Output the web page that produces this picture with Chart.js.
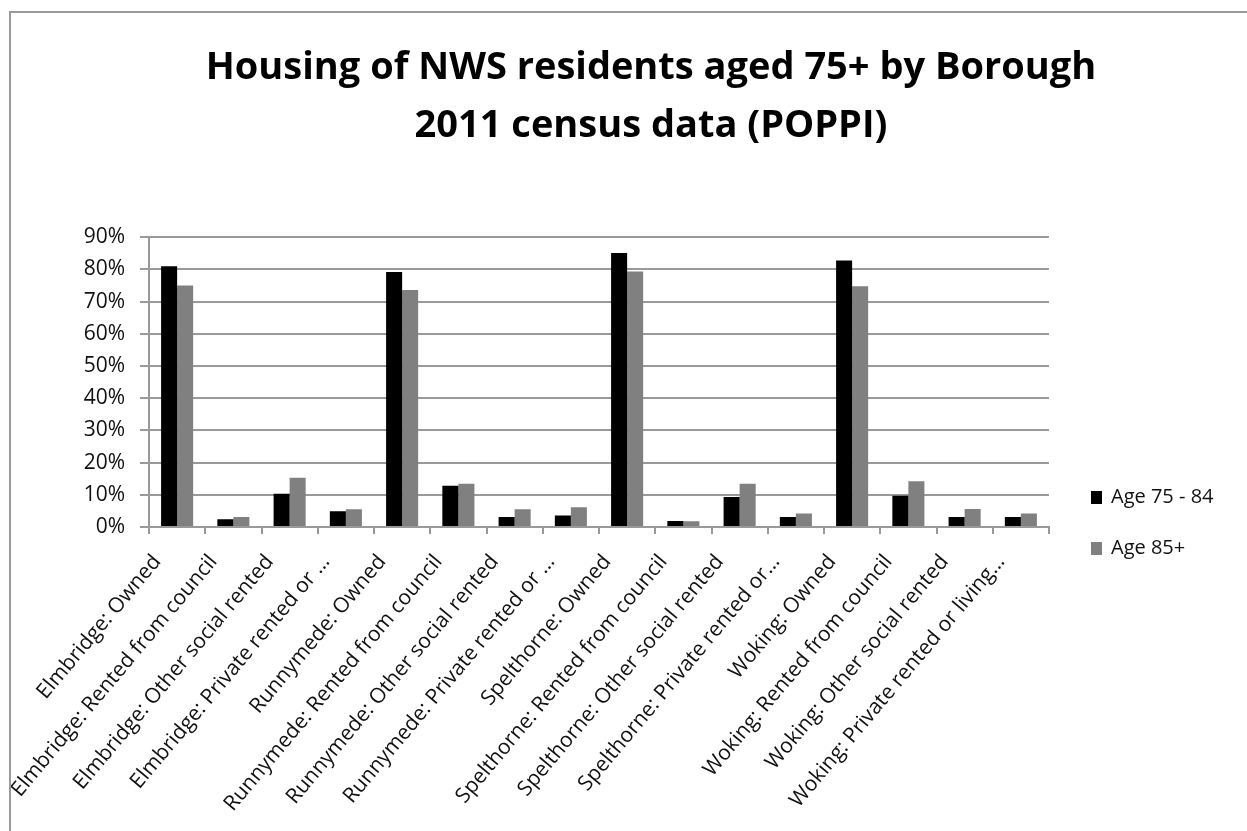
<!DOCTYPE html>
<html>
<head>
<meta charset="utf-8">
<title>Housing of NWS residents aged 75+ by Borough</title>
<script src="https://cdn.jsdelivr.net/npm/chart.js@4.4.1/dist/chart.umd.min.js"></script>
<style>
  html, body { margin: 0; padding: 0; background: #fff; overflow: hidden; }
  .frame { position: absolute; left: 9px; top: 11px; width: 1280px; height: 830px; border: 2px solid #9a9a9a; background: #fff; }
  canvas { display: block; }
</style>
</head>
<body>
<div class="frame"><canvas id="chartHousing" width="1280" height="830"></canvas></div>
<script>
// tenure categories per borough (labels as shortened on the axis)
const categories = [
  'Elmbridge: Owned',
  'Elmbridge: Rented from council',
  'Elmbridge: Other social rented',
  'Elmbridge: Private rented or …',
  'Runnymede: Owned',
  'Runnymede: Rented from council',
  'Runnymede: Other social rented',
  'Runnymede: Private rented or …',
  'Spelthorne: Owned',
  'Spelthorne: Rented from council',
  'Spelthorne: Other social rented',
  'Spelthorne: Private rented or…',
  'Woking: Owned',
  'Woking: Rented from council',
  'Woking: Other social rented',
  'Woking: Private rented or living…'
];

// percentage of residents in each age band
const age75to84 = [81.0, 2.4, 10.3, 4.9, 79.2, 12.8, 3.1, 3.6, 85.1, 1.9, 9.3, 3.1, 82.8, 9.7, 3.1, 3.1];
const age85plus = [75.0, 3.1, 15.3, 5.5, 73.6, 13.4, 5.5, 6.1, 79.4, 1.8, 13.4, 4.2, 74.8, 14.2, 5.6, 4.2];

const seriesNames = ['Age 75 - 84', 'Age 85+'];
const seriesColors = ['#000000', '#808080'];

const titleLines = ['Housing of NWS residents aged 75+ by Borough', '2011 census data (POPPI)'];
const yMax = 90;
const yStep = 10;

const FONT = '"Open Sans", sans-serif';

// legend drawn to the right of the plot, near the bottom
const sideLegend = {
  id: 'sideLegend',
  afterDraw(chart) {
    const { ctx, chartArea } = chart;
    ctx.save();
    ctx.font = '20px ' + FONT;
    ctx.textBaseline = 'middle';
    chart.data.datasets.forEach((ds, i) => {
      const y = chartArea.bottom - 30 + i * 51;
      const x = chartArea.right + 42;
      ctx.fillStyle = ds.backgroundColor;
      ctx.fillRect(x, y - 6, 11, 13);
      ctx.fillStyle = '#111';
      ctx.fillText(ds.label, x + 20, y);
    });
    ctx.restore();
  }
};

function drawChart() {
  new Chart(document.getElementById('chartHousing'), {
    type: 'bar',
    data: {
      labels: categories,
      datasets: [
        { label: seriesNames[0], data: age75to84, backgroundColor: seriesColors[0], borderWidth: 0 },
        { label: seriesNames[1], data: age85plus, backgroundColor: seriesColors[1], borderWidth: 0 }
      ]
    },
    options: {
      responsive: false,
      animation: false,
      devicePixelRatio: 1,
      categoryPercentage: 0.57,
      barPercentage: 1.0,
      layout: { padding: 0 },
      plugins: {
        legend: { display: false },
        tooltip: { enabled: false },
        title: {
          display: true,
          text: titleLines,
          color: '#000',
          font: { family: FONT, size: 38, weight: 'bold', lineHeight: 1.53 },
          padding: { top: 26, bottom: 82 }
        }
      },
      scales: {
        x: {
          afterFit: s => { s.height = 316; },
          grid: { offset: true, drawOnChartArea: false, tickLength: 7, color: '#999', lineWidth: 2 },
          border: { color: '#999', width: 2 },
          ticks: {
            autoSkip: false,
            maxRotation: 50,
            minRotation: 50,
            color: '#111',
            font: { family: FONT, size: 21 },
            padding: 16,
            labelOffset: -20
          }
        },
        y: {
          min: 0,
          max: yMax,
          afterFit: s => { s.width = 138; },
          grid: { color: '#9a9a9a', lineWidth: 2, tickLength: 9 },
          border: { color: '#999', width: 2 },
          ticks: {
            stepSize: yStep,
            color: '#111',
            font: { family: FONT, size: 21 },
            padding: 15,
            callback: v => v + '%'
          }
        },
        // empty right-hand axis keeps room for the legend
        side: {
          position: 'right',
          afterFit: s => { s.width = 242; },
          grid: { display: false },
          border: { display: false },
          ticks: { display: false }
        }
      }
    },
    plugins: [sideLegend]
  });
}

Promise.all([
  document.fonts.load('21px "Open Sans"'),
  document.fonts.load('bold 38px "Open Sans"')
]).then(drawChart, drawChart);
</script>
</body>
</html>
